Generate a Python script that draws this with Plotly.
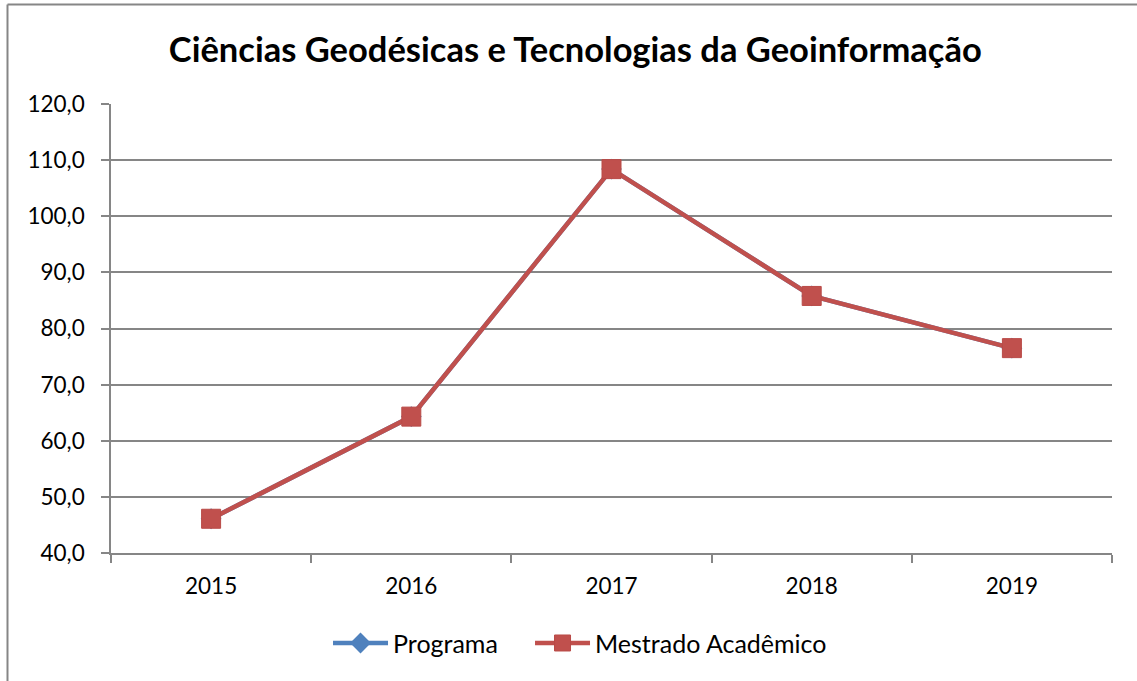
import plotly.graph_objects as go

# Values per year (same figures for both series)
anos = ["2015", "2016", "2017", "2018", "2019"]
programa = [46.1, 64.3, 108.4, 85.8, 76.5]
mestrado = [46.1, 64.3, 108.4, 85.8, 76.5]
y_ticks = [40, 50, 60, 70, 80, 90, 100, 110, 120]

AZUL = "#4F81BD"
VERMELHO = "#C0504D"
CINZA = "#868686"
FONTE = "Lato, 'Open Sans', sans-serif"

fig = go.Figure()
fig.add_trace(go.Scatter(
    x=anos, y=programa, name="Programa", mode="lines+markers",
    line=dict(color=AZUL, width=4.5),
    marker=dict(symbol="diamond", size=16, color=AZUL),
    legend="legend",
))
fig.add_trace(go.Scatter(
    x=anos, y=mestrado, name="Mestrado Acadêmico", mode="lines+markers",
    line=dict(color=VERMELHO, width=4.5),
    marker=dict(symbol="square", size=19, color=VERMELHO,
                line=dict(color="#B94A47", width=1)),
    legend="legend2",
))

# Outer chart frame (left and top edges)
fig.add_shape(type="line", xref="paper", yref="paper",
              x0=-0.1034, x1=-0.1034, y0=1.2214, y1=-0.35,
              line=dict(color=CINZA, width=2))
fig.add_shape(type="line", xref="paper", yref="paper",
              x0=-0.1034, x1=1.04, y0=1.2214, y1=1.2214,
              line=dict(color=CINZA, width=2))

legenda = dict(orientation="h", xanchor="left", y=-0.201, yanchor="middle",
               itemwidth=55, font=dict(family=FONTE, size=25, color="#000000"),
               bgcolor="rgba(0,0,0,0)")

fig.update_layout(
    width=1137, height=681,
    margin=dict(l=111, r=25, t=104, b=127.5),
    paper_bgcolor="white", plot_bgcolor="white",
    separators=",.",
    font=dict(family=FONTE, size=22.5, color="#000000"),
    title=dict(text="<b>Ciências Geodésicas e Tecnologias da Geoinformação</b>",
               x=0.506, xanchor="center", y=0.927, yanchor="middle",
               font=dict(family=FONTE, size=34.5, color="#000000")),
    showlegend=True,
    legend=dict(legenda, x=0.2168),
    legend2=dict(legenda, x=0.4186),
    xaxis=dict(type="category", range=[-0.5, 4.5],
               showline=True, linecolor=CINZA, linewidth=1.5,
               ticks="outside", tickson="boundaries", ticklen=8,
               tickcolor=CINZA, tickwidth=1.5, showgrid=False,
               ticklabelstandoff=12, fixedrange=True),
    yaxis=dict(range=[40, 120], tickvals=y_ticks, tickformat=".1f",
               showline=True, linecolor=CINZA, linewidth=1.5,
               ticks="outside", ticklen=8, tickcolor=CINZA, tickwidth=1.5,
               showgrid=True, gridcolor=CINZA, gridwidth=1.5,
               zeroline=False, ticklabelstandoff=12, fixedrange=True),
)

fig.write_html("out.html")
